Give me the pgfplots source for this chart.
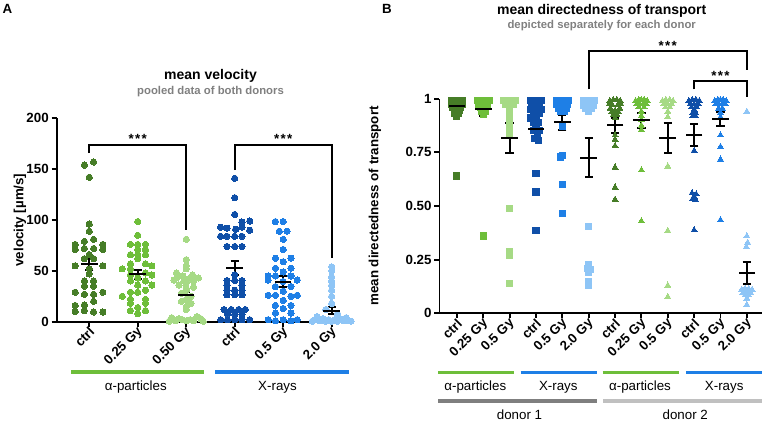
\documentclass[border=0pt]{standalone}
\usepackage{pgfplots}
\pgfplotsset{compat=1.18}
\usepackage{fontspec}
\setmainfont{Liberation Sans}

\definecolor{gdark}{HTML}{467D27}
\definecolor{gmid}{HTML}{6EBE3A}
\definecolor{glight}{HTML}{A6DA85}
\definecolor{bdark}{HTML}{0F4FA8}
\definecolor{bmid}{HTML}{1E7FE6}
\definecolor{blight}{HTML}{8EC5F6}
\definecolor{subgray}{HTML}{808080}
\definecolor{donorone}{HTML}{7F7F7F}
\definecolor{donortwo}{HTML}{C0C0C0}

\newcommand{\tickfont}{\fontsize{10}{12}\selectfont\bfseries}
\newcommand{\labfont}{\fontsize{10}{12}\selectfont}

\pgfplotsset{
  prism/.style={
    scale only axis, clip=false,
    axis x line=bottom, axis y line=left,
    axis line style={-, line width=1.4pt},
    tick style={line width=1.4pt, black},
    tick align=outside,
    major tick length=3.75pt,
    tick label style={font=\tickfont},
    xticklabel style={rotate=45, anchor=east, inner sep=1pt, yshift=-3pt, xshift=1pt},
    yticklabel style={inner sep=2pt},
    enlargelimits=false,
  },
  dots/.style={only marks, color=#1, mark=*, mark size=2.35pt,
    mark options={solid, fill=#1, draw=#1, line width=0pt}},
  sq/.style={only marks, color=#1, mark=square*, mark size=2.3pt,
    mark options={solid, fill=#1, draw=#1, line width=0pt}},
  tri/.style={only marks, color=#1, mark=triangle*, mark size=2.6pt,
    mark options={solid, fill=#1, draw=#1, line width=0pt}},
  meanbar/.style={only marks, color=black, mark=-, mark size=6.2pt,
    mark options={line width=1.5pt, black},
    error bars/.cd, y dir=both, y explicit,
    error bar style={line width=1.5pt, black},
    error mark=|, error mark options={line width=1.5pt, black, mark size=3.1pt}},
}

\begin{document}
\begin{tikzpicture}
\path[use as bounding box] (0,0) rectangle (575.25pt,-318pt);

% ---------------- Panel A: mean velocity ----------------
\begin{axis}[prism,
  at={(42.5pt,-241.3pt)}, anchor=south west,
  width=218.7pt, height=152.55pt,
  xmin=-0.672, xmax=5.342, ymin=0, ymax=200,
  ytick={0,50,100,150,200}, yticklabels={0,50,100,150,200},
  xtick={0,1,2,3,4,5},
  xticklabels={ctrl,0.25 Gy,0.50 Gy,ctrl,0.5 Gy,2.0 Gy},
]
% alpha ctrl
\addplot[dots=gdark] table[x=x,y=y] {
x y
0.09 157
-0.1 154
0 142
0 96
0 89
0.09 81
-0.1 79
-0.29 76
0.28 76
-0.29 71
-0.1 72
0.09 72
0.28 71
0 66
-0.1 62
0.09 62
-0.29 55
0.28 55
0 52
0 47
-0.1 40
0.09 40
-0.1 35
0.09 35
-0.29 29
0.28 29
-0.1 27
0.09 27
0.09 20
-0.29 16
-0.1 16.5
-0.29 10
-0.1 11
0.09 9.5
0.28 9.5
};
% alpha 0.25 Gy
\addplot[dots=gmid] table[x=x,y=y] {
x y
1 98.5
1 85
0.85 76
1 76
1.16 76
1 71
1.16 71
0.85 66
1 66
1.16 66
1 62
0.85 57
1.16 57
1.29 55
0.68 52
0.85 52
1.16 48
1.29 46
0.85 46
1 43
0.85 40
1.16 40
1 36
1.29 36
1.16 31
0.85 29
1 29
0.68 25
0.85 22
1.16 22
0.85 18
1.16 18
1 14
0.85 11
1.16 11
1 8
};
% alpha 0.50 Gy
\addplot[dots=glight] table[x=x,y=y] {
x y
2 81
2 61
2 55
2 52
1.8 48
2.13 46
1.93 45
2.25 43
1.8 43
2.05 42
1.75 41
2.15 40
1.95 40
2 38
1.85 36
2.15 34
2 33
2 31
1.9 28
2.1 25
2 22
1.9 20
2.1 18
2 15
2 12
2.22 5
1.7 4
2.3 3
1.85 3
2.08 2
1.92 2
2.15 1
1.78 1
2 1
1.65 0.5
2.35 0.5
};
% X-ray ctrl
\addplot[dots=bdark] table[x=x,y=y] {
x y
3 141
3 122
3 105.5
3.15 98
3.31 99
2.71 93
2.84 92
3.15 93
3.02 91
3.31 90
2.71 84
2.84 84
3 84
3.15 84
2.84 74
3 74
3.15 74
3 46
2.84 40.5
3 40.5
3.15 40.5
2.84 36
3.15 36
2.84 31
3 31
3.15 31
2.84 26.5
3 26.5
3.15 26.5
2.78 12
2.93 12
3.08 12
3.22 12
2.85 7.5
3 7.5
3.15 7.5
2.71 2
2.85 2
3 2
3.15 2
3.31 2
};
% X-ray 0.5 Gy
\addplot[dots=bmid] table[x=x,y=y] {
x y
3.84 98.5
4 98.5
3.92 89
4.08 89
4 81
4 71
3.84 62.5
4.16 62.5
4 59
3.84 52.6
4.16 52.6
4 49
3.69 45
3.84 45
4.16 45
3.69 41
4.29 41
4 39.5
3.84 34.6
4.16 34.6
4 30
3.69 26
3.84 26
4.29 26
4.16 25
4 21
3.84 16
4.16 16
4 13
3.84 8.5
4.16 8.5
3.69 2
4 2
4.29 2
3.84 1
4.16 1
};
% X-ray 2.0 Gy
\addplot[dots=blight] table[x=x,y=y] {
x y
5 54
5 50
5 44
5 40
5 36
5 31
5 25
5 18
4.88 12
5.12 8
4.7 5
5.3 4
4.82 3
5.18 3
4.94 2
5.06 2
4.65 2
5.35 1
4.76 1
5.24 1
4.88 0.5
5.12 0.5
5 0.5
4.6 0.5
5.4 0.5
};
% mean +- SEM
\addplot[meanbar] table[x=x,y=y,y error=e] {
x y e
0 57 6.5
1 46.7 4.2
2 26 3.5
3 52.6 6.9
4 39.5 5
5 11 3
};
% significance brackets
\draw[line width=1.25pt] (axis cs:0,165.7) -- (axis cs:0,173.5) -- (axis cs:2,173.5) -- (axis cs:2,90);
\draw[line width=1.25pt] (axis cs:3,149) -- (axis cs:3,173.5) -- (axis cs:5,173.5) -- (axis cs:5,62.7);
\node[anchor=base, inner sep=0pt, font=\tickfont] at (axis cs:1,175) {*\kern1pt*\kern1pt*};
\node[anchor=base, inner sep=0pt, font=\tickfont] at (axis cs:4,175) {*\kern1pt*\kern1pt*};
\end{axis}

% ---------------- Panel B: mean directedness ----------------
\begin{axis}[prism,
  at={(329.6pt,-235pt)}, anchor=south west,
  width=241.6pt, height=161pt,
  xmin=-0.66, xmax=11.56, ymin=0, ymax=1,
  ytick={0,0.25,0.5,0.75,1}, yticklabels={0,0.25,0.50,0.75,1},
  xtick={0,1,2,3,4,5,6,7,8,9,10,11},
  xticklabels={ctrl,0.25 Gy,0.5 Gy,ctrl,0.5 Gy,2.0 Gy,ctrl,0.25 Gy,0.5 Gy,ctrl,0.5 Gy,2.0 Gy},
]
% donor 1, alpha ctrl
\addplot[sq=gdark] table[x=x,y=y] {
x y
-0.22 0.99
-0.08 0.99
0.08 0.99
0.22 0.99
-0.2 0.975
-0.05 0.975
0.1 0.975
0.22 0.975
-0.15 0.96
0 0.96
0.15 0.96
-0.08 0.945
0.08 0.945
-0.1 0.93
0.06 0.93
0 0.915
0 0.64
};
% donor 1, alpha 0.25 Gy
\addplot[sq=gmid] table[x=x,y=y] {
x y
0.78 0.99
0.92 0.99
1.08 0.99
1.22 0.99
0.84 0.975
1 0.975
1.16 0.975
0.9 0.96
1.1 0.96
0.95 0.94
1.08 0.94
1 0.925
1 0.36
};
% donor 1, alpha 0.5 Gy
\addplot[sq=glight] table[x=x,y=y] {
x y
1.78 0.99
1.92 0.99
2.08 0.99
2.22 0.99
1.85 0.975
2 0.975
2.15 0.975
2 0.955
2 0.935
2 0.91
2 0.89
2 0.865
2 0.84
2 0.49
2 0.29
2 0.27
2 0.14
};
% donor 1, X-ray ctrl
\addplot[sq=bdark] table[x=x,y=y] {
x y
2.8 0.99
2.97 0.99
3.2 0.99
2.85 0.97
3.15 0.97
2.8 0.95
3.0 0.95
3.2 0.95
2.9 0.93
3.12 0.93
2.8 0.91
3.0 0.91
2.9 0.89
3.1 0.89
3.0 0.87
2.92 0.85
3.12 0.85
3.05 0.83
2.95 0.815
3.1 0.805
3 0.65
3 0.565
3 0.385
};
% donor 1, X-ray 0.5 Gy
\addplot[sq=bmid] table[x=x,y=y] {
x y
3.78 0.99
3.9 0.99
4.0 0.99
4.12 0.99
4.22 0.99
3.8 0.975
3.93 0.975
4.07 0.975
4.2 0.975
3.85 0.955
4.0 0.955
4.15 0.955
3.93 0.94
4.07 0.94
4.0 0.87
3.93 0.728
4.02 0.737
4.0 0.60
4.0 0.466
};
% donor 1, X-ray 2.0 Gy
\addplot[sq=blight] table[x=x,y=y] {
x y
4.8 0.99
4.9 0.99
5.0 0.99
5.1 0.99
5.2 0.99
4.82 0.97
4.94 0.97
5.06 0.97
5.18 0.97
4.88 0.955
5.0 0.955
5.12 0.955
5.0 0.94
5 0.406
5 0.225
4.95 0.21
5.05 0.205
5 0.19
5 0.147
5 0.13
};
% donor 2, alpha ctrl
\addplot[tri=gdark] table[x=x,y=y] {
x y
5.8 0.99
5.93 0.995
6.07 0.995
6.2 0.99
5.78 0.975
5.9 0.97
6.1 0.97
6.22 0.975
5.82 0.955
6.18 0.955
5.88 0.94
6.0 0.945
6.12 0.94
5.93 0.925
6.07 0.925
6.0 0.91
6 0.83
6 0.81
6 0.78
6 0.68
6 0.587
6 0.53
};
% donor 2, alpha 0.25 Gy
\addplot[tri=gmid] table[x=x,y=y] {
x y
6.78 0.99
6.9 0.995
7.0 0.995
7.1 0.995
7.22 0.99
6.82 0.975
6.94 0.975
7.06 0.975
7.18 0.975
6.9 0.96
7.1 0.96
7 0.94
7 0.92
7 0.90
7 0.875
7 0.855
7 0.667
7 0.43
};
% donor 2, alpha 0.5 Gy
\addplot[tri=glight] table[x=x,y=y] {
x y
7.8 0.99
7.93 0.995
8.07 0.995
8.2 0.99
7.85 0.975
8.0 0.975
8.15 0.975
7.92 0.96
8.08 0.96
8.0 0.94
8.0 0.915
8 0.685
8 0.385
8 0.13
8 0.077
};
% donor 2, X-ray ctrl
\addplot[tri=bdark] table[x=x,y=y] {
x y
8.8 0.99
8.93 0.995
9.07 0.995
9.2 0.99
8.85 0.975
9.0 0.975
9.15 0.975
8.9 0.96
9.1 0.96
9.0 0.95
8.95 0.935
9.05 0.935
8.95 0.92
9.05 0.92
9 0.757
8.92 0.56
9.08 0.555
9 0.545
8.95 0.535
9.05 0.53
9 0.388
};
% donor 2, X-ray 0.5 Gy
\addplot[tri=bmid] table[x=x,y=y] {
x y
9.78 0.99
9.9 0.995
10.0 0.995
10.1 0.995
10.22 0.99
9.82 0.975
9.94 0.975
10.06 0.975
10.18 0.975
9.93 0.955
10.07 0.955
10 0.935
10 0.915
10 0.83
10 0.776
10 0.717
10 0.435
};
% donor 2, X-ray 2.0 Gy
\addplot[tri=blight] table[x=x,y=y] {
x y
11 0.94
11 0.36
11.03 0.33
10.98 0.31
10.8 0.11
10.93 0.115
11.07 0.115
11.2 0.11
10.85 0.095
11.0 0.1
11.15 0.095
10.93 0.085
11.07 0.085
11 0.07
11 0.04
};
% mean +- SEM
\addplot[meanbar] table[x=x,y=y,y error=e] {
x y e
0 0.965 0.015
1 0.95 0.03
2 0.815 0.07
3 0.86 0.037
4 0.89 0.035
5 0.725 0.09
6 0.875 0.035
7 0.9 0.035
8 0.815 0.07
9 0.83 0.05
10 0.905 0.032
11 0.187 0.05
};
% significance brackets
\draw[line width=1.25pt] (axis cs:5,1.043) -- (axis cs:5,1.222) -- (axis cs:11,1.222) -- (axis cs:11,1.133);
\draw[line width=1.25pt] (axis cs:9,1.043) -- (axis cs:9,1.082) -- (axis cs:11,1.082) -- (axis cs:11,1.009);
\node[anchor=base, inner sep=0pt, font=\tickfont] at (axis cs:8,1.226) {*\kern1pt*\kern1pt*};
\node[anchor=base, inner sep=0pt, font=\tickfont] at (axis cs:10,1.086) {*\kern1pt*\kern1pt*};
\end{axis}

% ---------------- titles, labels and group bars (pixel grid) ----------------
\begin{scope}[x=0.75pt, y=-0.75pt]
\node[anchor=center, font=\fontsize{10}{12}\selectfont\bfseries] at (7.5,9) {A};
\node[anchor=center, font=\fontsize{10}{12}\selectfont\bfseries] at (387,9) {B};

\node[anchor=base, font=\fontsize{10.5}{12}\selectfont\bfseries] at (210.5,80) {mean velocity};
\node[anchor=base, font=\fontsize{8.5}{10}\selectfont\bfseries, text=subgray] at (210.5,94.3) {pooled data of both donors};
\node[anchor=base, font=\fontsize{10.5}{12}\selectfont\bfseries] at (601.7,15) {mean directedness of transport};
\node[anchor=base, font=\fontsize{8.5}{10}\selectfont\bfseries, text=subgray] at (601.7,28.3) {depicted separately for each donor};

\node[rotate=90, font=\fontsize{10}{12}\selectfont\bfseries] at (20,220) {velocity [µm/s]};
\node[rotate=90, font=\fontsize{10}{12}\selectfont\bfseries] at (375,206) {mean directedness of transport};

% panel A groups
\draw[gmid, line width=2.8pt] (71,372) -- (204.3,372);
\draw[bmid, line width=2.8pt] (215,372) -- (348.5,372);
\node[anchor=base, font=\labfont] at (135.8,390) {α-particles};
\node[anchor=base, font=\labfont] at (277.5,390) {X-rays};

% panel B groups
\draw[gmid, line width=2.6pt] (438.3,372.3) -- (514.3,372.3);
\draw[bmid, line width=2.6pt] (520.7,372.3) -- (596.7,372.3);
\draw[gmid, line width=2.6pt] (602.7,372.3) -- (679,372.3);
\draw[bmid, line width=2.6pt] (686,372.3) -- (762.3,372.3);
\node[anchor=base, font=\labfont] at (475.3,390.7) {α-particles};
\node[anchor=base, font=\labfont] at (558.3,390.7) {X-rays};
\node[anchor=base, font=\labfont] at (640,390.7) {α-particles};
\node[anchor=base, font=\labfont] at (724.2,390.7) {X-rays};
\draw[donorone, line width=3.2pt] (438.3,401.2) -- (596.7,401.2);
\draw[donortwo, line width=3.2pt] (603.3,401.2) -- (762.3,401.2);
\node[anchor=base, font=\labfont] at (519.5,419.3) {donor 1};
\node[anchor=base, font=\labfont] at (685.2,419.3) {donor 2};
\end{scope}
\end{tikzpicture}
\end{document}
